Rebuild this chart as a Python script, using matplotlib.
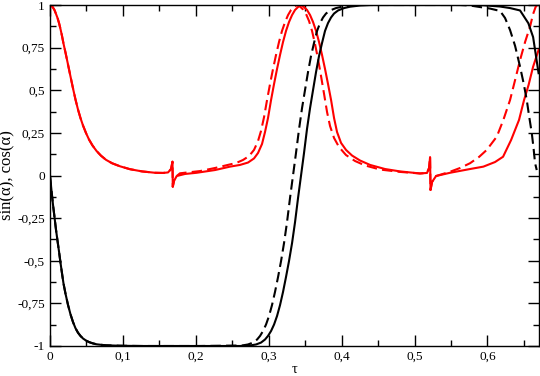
import matplotlib
matplotlib.use("Agg")
import matplotlib.pyplot as plt
from matplotlib.ticker import MultipleLocator

plt.rcParams['font.family'] = ['Liberation Serif', 'DejaVu Serif']

# values (tau, value)
tau_start = [0.0, 0.0021, 0.0041, 0.0062, 0.0082, 0.0103, 0.0124, 0.0144, 0.0165,
             0.0185, 0.0213, 0.0247, 0.0281, 0.0316, 0.0350, 0.0384, 0.0418, 0.0453,
             0.0494, 0.0535, 0.0583, 0.0638, 0.0700, 0.0768, 0.0851, 0.0960, 0.1097,
             0.1262, 0.1440, 0.1550]
cos_start = [1.0, 0.996, 0.985, 0.970, 0.948, 0.924, 0.894, 0.859, 0.818,
             0.774, 0.720, 0.651, 0.581, 0.510, 0.445, 0.387, 0.337, 0.293,
             0.249, 0.211, 0.176, 0.144, 0.116, 0.092, 0.072, 0.054, 0.037,
             0.024, 0.016, 0.015]
sin_start = [0.0, -0.091, -0.171, -0.245, -0.317, -0.383, -0.447, -0.512, -0.575,
             -0.633, -0.694, -0.759, -0.814, -0.860, -0.896, -0.922, -0.941, -0.956,
             -0.968, -0.977, -0.984, -0.990, -0.993, -0.996, -0.997, -0.9985, -0.9993,
             -1.0, -1.0, -1.0]

# small kink near tau = 0.168
tau_kink1 = [0.1619, 0.1660, 0.1680, 0.1684, 0.1701, 0.1738]
cos_kink1 = [0.018, 0.038, 0.081, -0.066, -0.032, -0.003]
# small kink near tau = 0.522
tau_kink2 = [0.5171, 0.5199, 0.5213, 0.5219, 0.5240, 0.5295]
cos_kink2 = [0.015, 0.044, 0.108, -0.085, -0.038, -0.003]

tau_cos_solid = tau_start + tau_kink1 + [
    0.1852, 0.2012, 0.2263, 0.2469, 0.2606, 0.2716, 0.2798, 0.2853, 0.2908, 0.2949,
    0.2990, 0.3032, 0.3073, 0.3114, 0.3155, 0.3196, 0.3237, 0.3278, 0.3320, 0.3361,
    0.3402, 0.3443, 0.3484, 0.3525, 0.3567, 0.3608, 0.3649, 0.3690, 0.3731, 0.3772,
    0.3813, 0.3855, 0.3896, 0.3937, 0.3992, 0.4060, 0.4143, 0.4252, 0.4390, 0.4595,
    0.4801, 0.5075] + tau_kink2 + [
    0.5487, 0.5761, 0.5944, 0.6104, 0.6214, 0.6324, 0.6433, 0.6502, 0.6564, 0.6626,
    0.6701]
cos_solid = cos_start + cos_kink1 + [
    0.009, 0.016, 0.032, 0.052, 0.062, 0.076, 0.100, 0.132, 0.185, 0.255,
    0.337, 0.443, 0.537, 0.625, 0.707, 0.783, 0.848, 0.900, 0.941, 0.971,
    0.988, 1.0, 0.988, 0.971, 0.941, 0.900, 0.848, 0.783, 0.707, 0.625,
    0.537, 0.443, 0.337, 0.255, 0.191, 0.150, 0.117, 0.088, 0.062, 0.038,
    0.024, 0.012] + cos_kink2 + [
    0.016, 0.038, 0.052, 0.079, 0.110, 0.208, 0.326, 0.443, 0.531, 0.638,
    0.736]

tau_cos_dashed = tau_start + tau_kink1 + [
    0.1783, 0.2058, 0.2263, 0.2469, 0.2551, 0.2647, 0.2730, 0.2798, 0.2853, 0.2894,
    0.2936, 0.2977, 0.3018, 0.3059, 0.3100, 0.3141, 0.3182, 0.3224, 0.3265, 0.3306,
    0.3347, 0.3388, 0.3429, 0.3470, 0.3512, 0.3553, 0.3594, 0.3635, 0.3676, 0.3717,
    0.3759, 0.3800, 0.3841, 0.3896, 0.3964, 0.4060, 0.4184, 0.4321, 0.4527, 0.4801,
    0.5075] + tau_kink2 + [
    0.5487, 0.5624, 0.5761, 0.5885, 0.5990, 0.6128, 0.6218, 0.6310, 0.6379, 0.6447,
    0.6516, 0.6584, 0.6626, 0.6660, 0.6680]
cos_dashed = cos_start + cos_kink1 + [
    0.013, 0.026, 0.044, 0.065, 0.073, 0.091, 0.114, 0.150, 0.202, 0.261,
    0.343, 0.443, 0.537, 0.625, 0.707, 0.783, 0.848, 0.900, 0.941, 0.971,
    0.988, 1.0, 0.991, 0.974, 0.947, 0.906, 0.848, 0.771, 0.683, 0.584,
    0.478, 0.372, 0.290, 0.220, 0.167, 0.120, 0.085, 0.059, 0.035, 0.021,
    0.012] + cos_kink2 + [
    0.022, 0.044, 0.072, 0.109, 0.150, 0.228, 0.326, 0.443, 0.560, 0.677,
    0.783, 0.873, 0.947, 0.988, 1.0]

tau_sin_solid = tau_start + [
    0.2058, 0.2606, 0.2743, 0.2826, 0.2894, 0.2949, 0.2990, 0.3032, 0.3073, 0.3114,
    0.3155, 0.3196, 0.3237, 0.3278, 0.3320, 0.3361, 0.3402, 0.3443, 0.3484, 0.3525,
    0.3567, 0.3608, 0.3649, 0.3690, 0.3731, 0.3772, 0.3813, 0.3855, 0.3896, 0.3951,
    0.4033, 0.4115, 0.4252, 0.4390, 0.5898, 0.6173, 0.6310, 0.6447, 0.6561, 0.6626,
    0.6653, 0.6701]
sin_solid = sin_start + [
    -1.0, -1.0, -0.997, -0.991, -0.980, -0.962, -0.941, -0.912, -0.874, -0.824,
    -0.760, -0.683, -0.595, -0.502, -0.396, -0.273, -0.132, 0.0, 0.132, 0.273,
    0.396, 0.502, 0.607, 0.701, 0.777, 0.848, 0.894, 0.927, 0.950, 0.968,
    0.982, 0.990, 0.997, 1.0, 1.0, 0.991, 0.982, 0.968, 0.893, 0.812,
    0.736, 0.600]

tau_sin_dashed = tau_start + [
    0.2058, 0.2634, 0.2716, 0.2785, 0.2840, 0.2881, 0.2922, 0.2963, 0.3004, 0.3045,
    0.3086, 0.3128, 0.3169, 0.3210, 0.3251, 0.3292, 0.3333, 0.3374, 0.3416, 0.3457,
    0.3498, 0.3539, 0.3580, 0.3621, 0.3663, 0.3704, 0.3745, 0.3786, 0.3841, 0.3923,
    0.4005, 0.4143, 0.4280, 0.5624, 0.5761, 0.5898, 0.6036, 0.6173, 0.6241, 0.6310,
    0.6379, 0.6447, 0.6495, 0.6539, 0.6571, 0.6608, 0.6632, 0.6653, 0.6676]
sin_dashed = sin_start + [
    -1.0, -0.997, -0.991, -0.980, -0.962, -0.941, -0.912, -0.874, -0.824, -0.760,
    -0.683, -0.595, -0.502, -0.396, -0.273, -0.132, 0.0, 0.132, 0.273, 0.396,
    0.502, 0.607, 0.701, 0.777, 0.848, 0.894, 0.927, 0.950, 0.968, 0.982,
    0.990, 0.997, 1.0, 1.0, 0.997, 0.988, 0.979, 0.965, 0.924, 0.853,
    0.760, 0.638, 0.543, 0.443, 0.349, 0.248, 0.161, 0.072, 0.032]

xticks = [0, 0.1, 0.2, 0.3, 0.4, 0.5, 0.6]
xtick_labels = ["0", "0,1", "0,2", "0,3", "0,4", "0,5", "0,6"]
yticks = [-1, -0.75, -0.5, -0.25, 0, 0.25, 0.5, 0.75, 1]
ytick_labels = ["-1", "-0,75", "-0,5", "-0,25", "0", "0,25", "0,5", "0,75", "1"]

fig = plt.figure(figsize=(5.4, 3.76), dpi=100)
ax = fig.add_axes([50 / 540, 30 / 376, 488.5 / 540, 341 / 376])

lw = 1.5
ax.plot(tau_cos_solid, cos_solid, color="red", lw=lw)
ax.plot(tau_cos_dashed, cos_dashed, color="red", lw=lw, dashes=(5, 2.5))
ax.plot(tau_sin_solid, sin_solid, color="black", lw=lw)
ax.plot(tau_sin_dashed, sin_dashed, color="black", lw=lw, dashes=(5, 2.5))

ax.set_xlim(0, 0.67)
ax.set_ylim(-1, 1)
ax.set_xticks(xticks)
ax.set_xticklabels(xtick_labels)
ax.set_yticks(yticks)
ax.set_yticklabels(ytick_labels)
ax.xaxis.set_minor_locator(MultipleLocator(0.05))
ax.yaxis.set_minor_locator(MultipleLocator(0.125))
ax.tick_params(which="both", direction="in", top=True, right=True,
               labelsize=9.6, width=1.0, pad=3.6)
ax.tick_params(which="major", length=8)
ax.tick_params(which="minor", length=4)
for s in ax.spines.values():
    s.set_linewidth(1.0)

ax.set_xlabel("τ", fontsize=10.5, labelpad=0)
ax.set_ylabel("sin(α), cos(α)", fontsize=12, labelpad=1)

fig.savefig("out.png", dpi=100)
